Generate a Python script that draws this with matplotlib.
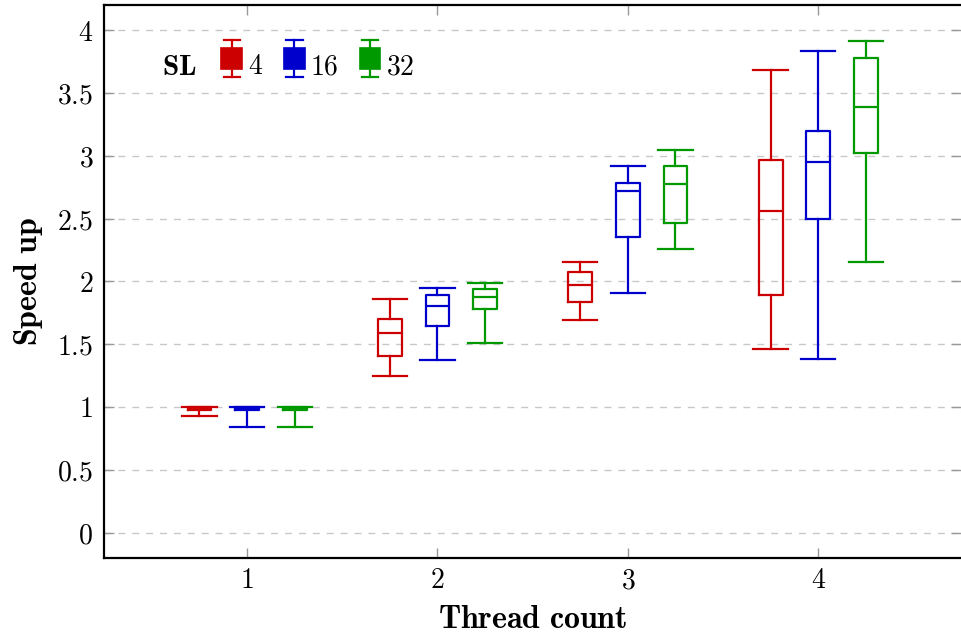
import matplotlib
matplotlib.use("Agg")
import matplotlib.pyplot as plt
from matplotlib.patches import Rectangle
from matplotlib.lines import Line2D
from matplotlib.legend_handler import HandlerBase

plt.rcParams['mathtext.fontset'] = 'cm'
plt.rcParams['font.family'] = 'serif'
plt.rcParams['font.serif'] = ['DejaVu Serif']

threads = [1, 2, 3, 4]
sl_labels = ['4', '16', '32']
colors = ['#cc0000', '#0000cc', '#009900']

# speed up per thread count, one list per SL value
whislo = [[0.93, 1.25, 1.69, 1.46],
          [0.84, 1.37, 1.91, 1.38],
          [0.84, 1.51, 2.26, 2.15]]
q1 = [[0.975, 1.405, 1.838, 1.891],
      [0.975, 1.647, 2.356, 2.496],
      [0.975, 1.777, 2.462, 3.022]]
med = [[0.99, 1.591, 1.968, 2.56],
       [0.99, 1.80, 2.717, 2.946],
       [0.99, 1.873, 2.778, 3.389]]
q3 = [[1.0, 1.697, 2.074, 2.967],
      [1.0, 1.888, 2.786, 3.195],
      [1.0, 1.936, 2.919, 3.775]]
whishi = [[1.0, 1.857, 2.154, 3.681],
          [1.0, 1.947, 2.916, 3.833],
          [1.0, 1.99, 3.046, 3.915]]

offsets = [-0.25, 0.0, 0.25]


class BoxHandler(HandlerBase):
    # little filled box with whiskers for the legend
    def create_artists(self, legend, orig_handle, xdescent, ydescent,
                       width, height, fontsize, trans):
        c = orig_handle.get_color()
        cx = width / 2 - xdescent
        cy = height / 2 - ydescent + 0.22 * fontsize
        bw = 0.75 * fontsize
        bh = 0.75 * fontsize
        half = 0.65 * fontsize
        cw = 0.6 * fontsize
        box = Rectangle((cx - bw / 2, cy - bh / 2), bw, bh, facecolor=c,
                        edgecolor=c, lw=1.2, transform=trans)
        stem = Line2D([cx, cx], [cy - half, cy + half], color=c, lw=1.6,
                      transform=trans)
        top = Line2D([cx - cw / 2, cx + cw / 2], [cy + half] * 2, color=c,
                     lw=1.6, transform=trans)
        bot = Line2D([cx - cw / 2, cx + cw / 2], [cy - half] * 2, color=c,
                     lw=1.6, transform=trans)
        return [stem, top, bot, box]


fig = plt.figure(figsize=(9.61, 6.37), dpi=100)
ax = fig.add_axes([0.1085, 0.1245, 0.8915, 0.8677])

handles = []
for i in range(3):
    stats = []
    for j in range(len(threads)):
        stats.append({'whislo': whislo[i][j], 'q1': q1[i][j], 'med': med[i][j],
                      'q3': q3[i][j], 'whishi': whishi[i][j]})
    pos = [t + offsets[i] for t in threads]
    c = colors[i]
    ax.bxp(stats, positions=pos, widths=0.125, capwidths=0.18, showfliers=False,
           manage_ticks=False,
           boxprops=dict(color=c, lw=1.6),
           medianprops=dict(color=c, lw=1.6),
           whiskerprops=dict(color=c, lw=1.6),
           capprops=dict(color=c, lw=1.6))
    handles.append(Line2D([], [], color=c))

ax.set_xlim(0.25, 4.75)
ax.set_ylim(-0.2, 4.2)
ax.set_xticks(threads)
ax.set_xticklabels(['$%d$' % t for t in threads])
yt = [0, 0.5, 1, 1.5, 2, 2.5, 3, 3.5, 4]
ax.set_yticks(yt)
ax.set_yticklabels(['$%g$' % v for v in yt])
ax.tick_params(axis='both', direction='in', length=7, width=1, color='#999999',
               labelsize=20, top=True, right=True)
ax.tick_params(axis='y', pad=8)
ax.tick_params(axis='x', pad=7)
ax.yaxis.grid(True, linestyle=(0, (5, 5)), color='#c8c8c8', lw=1)
ax.set_axisbelow(True)
for s in ['left', 'bottom', 'top']:
    ax.spines[s].set_linewidth(1.6)
ax.spines['right'].set_visible(False)

ax.set_xlabel(r'$\mathbf{Thread\ count}$', fontsize=23, labelpad=7)
ax.set_ylabel(r'$\mathbf{Speed\ up}$', fontsize=23, labelpad=9)

ax.text(0.067, 0.888, r'$\mathbf{SL}$', transform=ax.transAxes, fontsize=21,
        ha='left', va='center')
ax.legend(handles, ['$%s$' % s for s in sl_labels], handler_map={Line2D: BoxHandler()},
          ncol=3, frameon=False, fontsize=20, loc='center left',
          bbox_to_anchor=(0.136, 0.888), handlelength=0.8, handleheight=0.7,
          handletextpad=0.18, columnspacing=0.72, borderpad=0, borderaxespad=0)

fig.savefig('out.png', dpi=100)
